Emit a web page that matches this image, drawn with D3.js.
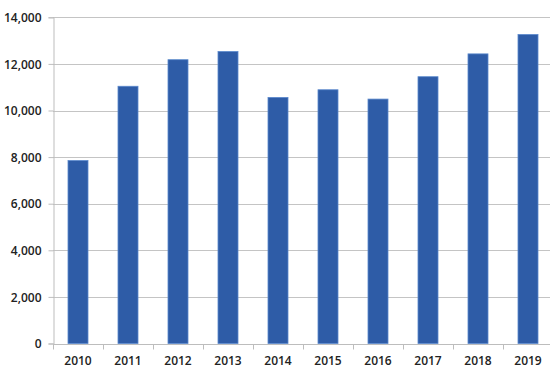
<!DOCTYPE html>
<html lang="en">

<head>
    <meta charset="UTF-8" />
    <style>
        body { margin: 0; background: #fff; }
        text { font-family: "Open Sans", sans-serif; font-size: 12px; font-weight: 600; fill: #222; }
    </style>
</head>

<body>
    <svg width="550" height="373"></svg>
    <script src="https://d3js.org/d3.v7.min.js"></script>
    <script>
        // values
        var years = ["2010", "2011", "2012", "2013", "2014", "2015", "2016", "2017", "2018", "2019"];
        var values = [7850, 11040, 12180, 12530, 10560, 10890, 10490, 11450, 12430, 13260];
        var yTicks = [0, 2000, 4000, 6000, 8000, 10000, 12000, 14000];

        var svg = d3.select("svg");
        var plotLeft = 53, plotRight = 553, plotTop = 17.3, plotBottom = 343.5;

        var x = d3.scaleBand()
            .domain(years)
            .range([plotLeft, plotRight])
            .paddingInner(0.6)
            .paddingOuter(0.3);

        var y = d3.scaleLinear()
            .domain([0, 14000])
            .range([plotBottom, plotTop]);

        // gridlines
        svg.append("g")
            .selectAll("line")
            .data(yTicks.slice(1))
            .enter().append("line")
            .attr("x1", plotLeft).attr("x2", 550)
            .attr("y1", function (d) { return Math.round(y(d)) + 0.5; })
            .attr("y2", function (d) { return Math.round(y(d)) + 0.5; })
            .style("stroke", "#c4c4c4");

        // y axis
        var yAxis = svg.append("g")
            .attr("transform", "translate(" + (plotLeft + 0.5) + ",0)")
            .call(d3.axisLeft(y).tickValues(yTicks).tickSize(5).tickPadding(8).tickFormat(d3.format(",")));
        yAxis.select(".domain").style("stroke", "#bdbdbd");
        yAxis.selectAll(".tick line").style("stroke", "#bdbdbd");
        yAxis.selectAll("text").attr("dy", "0.35em").attr("x", -12);

        // bars
        svg.append("g")
            .selectAll("rect")
            .data(values)
            .enter().append("rect")
            .attr("x", function (d, i) { return x(years[i]); })
            .attr("y", function (d) { return y(d); })
            .attr("width", x.bandwidth())
            .attr("height", function (d) { return plotBottom - y(d); })
            .style("fill", "#2e5ca7")
            .style("stroke", "#5a88cc")
            .style("stroke-width", 0.8);

        // x axis with ticks between categories
        var xg = svg.append("g")
            .attr("transform", "translate(0," + (Math.round(plotBottom) + 0.5) + ")");
        xg.append("line")
            .attr("x1", plotLeft).attr("x2", 550)
            .style("stroke", "#bdbdbd");
        xg.selectAll(".sep")
            .data(d3.range(years.length + 1))
            .enter().append("line")
            .attr("class", "sep")
            .attr("x1", function (i) { return plotLeft + 0.5 + i * x.step(); })
            .attr("x2", function (i) { return plotLeft + 0.5 + i * x.step(); })
            .attr("y1", 0).attr("y2", 5)
            .style("stroke", "#bdbdbd");
        xg.selectAll("text")
            .data(years)
            .enter().append("text")
            .attr("x", function (d) { return x(d) + x.bandwidth() / 2; })
            .attr("y", 20)
            .attr("text-anchor", "middle")
            .text(function (d) { return d; });
    </script>
</body>

</html>
